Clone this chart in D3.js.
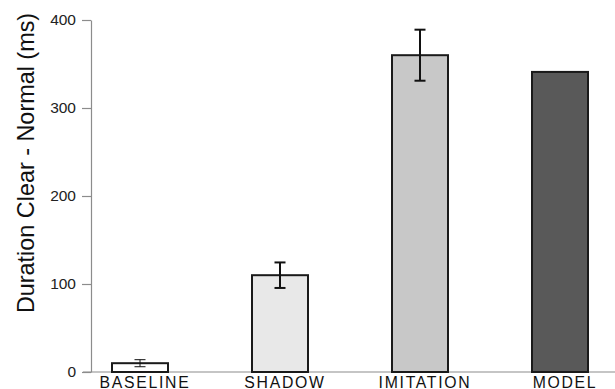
<!DOCTYPE html>
<html>
<head>
<meta charset="utf-8">
<script src="https://cdn.jsdelivr.net/npm/d3@7"></script>
<style>
  body { margin: 0; background: #fff; }
  svg { display: block; }
</style>
</head>
<body>
<div id="chart"></div>
<script>
const categories = ["BASELINE", "SHADOW", "IMITATION", "MODEL"];
const values = [10, 110, 360, 341];
const errors = [4, 14.5, 29, null];
const fills = ["#ffffff", "#e8e8e8", "#c8c8c8", "#595959"];
const yTicks = [0, 100, 200, 300, 400];

const W = 615, H = 389;

const svg = d3
  .select("#chart")
  .append("svg")
  .attr("width", W)
  .attr("height", H);

const x = d3
  .scaleBand()
  .domain(categories)
  .range([70, 630])
  .paddingInner(0.6)
  .paddingOuter(0.3);
const y = d3.scaleLinear().domain([0, 400]).range([372, 20]);

const axisColor = "#8c8c8c";

// y axis
const yAxis = svg
  .append("g")
  .attr("transform", "translate(91,0)")
  .call(d3.axisLeft(y).tickValues(yTicks).tickSize(9).tickSizeOuter(0));
yAxis.select(".domain").attr("stroke", axisColor).attr("stroke-width", 1.2);
yAxis.selectAll(".tick line").attr("stroke", axisColor).attr("stroke-width", 1.2);
yAxis
  .selectAll(".tick text")
  .attr("x", -15)
  .attr("fill", "#222")
  .style("font-family", "'Liberation Sans', Arial, sans-serif")
  .style("font-size", "15.5px");

// x axis line
svg
  .append("line")
  .attr("x1", 83)
  .attr("x2", W)
  .attr("y1", y(0))
  .attr("y2", y(0))
  .attr("stroke", axisColor)
  .attr("stroke-width", 1.2);

// bars
svg
  .append("g")
  .selectAll("rect")
  .data(categories)
  .join("rect")
  .attr("x", (d) => x(d))
  .attr("width", x.bandwidth())
  .attr("y", (d, i) => y(values[i]))
  .attr("height", (d, i) => y(0) - y(values[i]))
  .attr("fill", (d, i) => fills[i])
  .attr("stroke", "#1a1a1a")
  .attr("stroke-width", 2);

// error bars
const eb = svg
  .append("g")
  .selectAll("g")
  .data(categories.filter((d, i) => errors[i] != null))
  .join("g")
  .attr("stroke", "#111")
  .attr("stroke-width", (d) => (errors[categories.indexOf(d)] < 10 ? 1 : 2));

eb.append("line")
  .attr("x1", (d) => x(d) + x.bandwidth() / 2)
  .attr("x2", (d) => x(d) + x.bandwidth() / 2)
  .attr("y1", (d) => {
    const i = categories.indexOf(d);
    return y(values[i] + errors[i]);
  })
  .attr("y2", (d) => {
    const i = categories.indexOf(d);
    return y(values[i] - errors[i]);
  });

[1, -1].forEach((s) => {
  eb.append("line")
    .attr("x1", (d) => x(d) + x.bandwidth() / 2 - 5.5)
    .attr("x2", (d) => x(d) + x.bandwidth() / 2 + 5.5)
    .attr("y1", (d) => {
      const i = categories.indexOf(d);
      return y(values[i] + s * errors[i]);
    })
    .attr("y2", (d) => {
      const i = categories.indexOf(d);
      return y(values[i] + s * errors[i]);
    });
});

// x labels
svg
  .append("g")
  .selectAll("text")
  .data(categories)
  .join("text")
  .attr("x", (d) => x(d) + x.bandwidth() / 2 + 5)
  .attr("y", 387.5)
  .attr("text-anchor", "middle")
  .attr("fill", "#111")
  .style("font-family", "'Liberation Sans', Arial, sans-serif")
  .style("font-size", "15.8px")
  .style("letter-spacing", "1.7px")
  .text((d) => d);

// y label
svg
  .append("text")
  .attr("transform", "translate(34,163) rotate(-90)")
  .attr("text-anchor", "middle")
  .attr("fill", "#111")
  .style("font-family", "'Liberation Sans', Arial, sans-serif")
  .style("font-size", "23.4px")
  .text("Duration Clear - Normal (ms)");
</script>
</body>
</html>
